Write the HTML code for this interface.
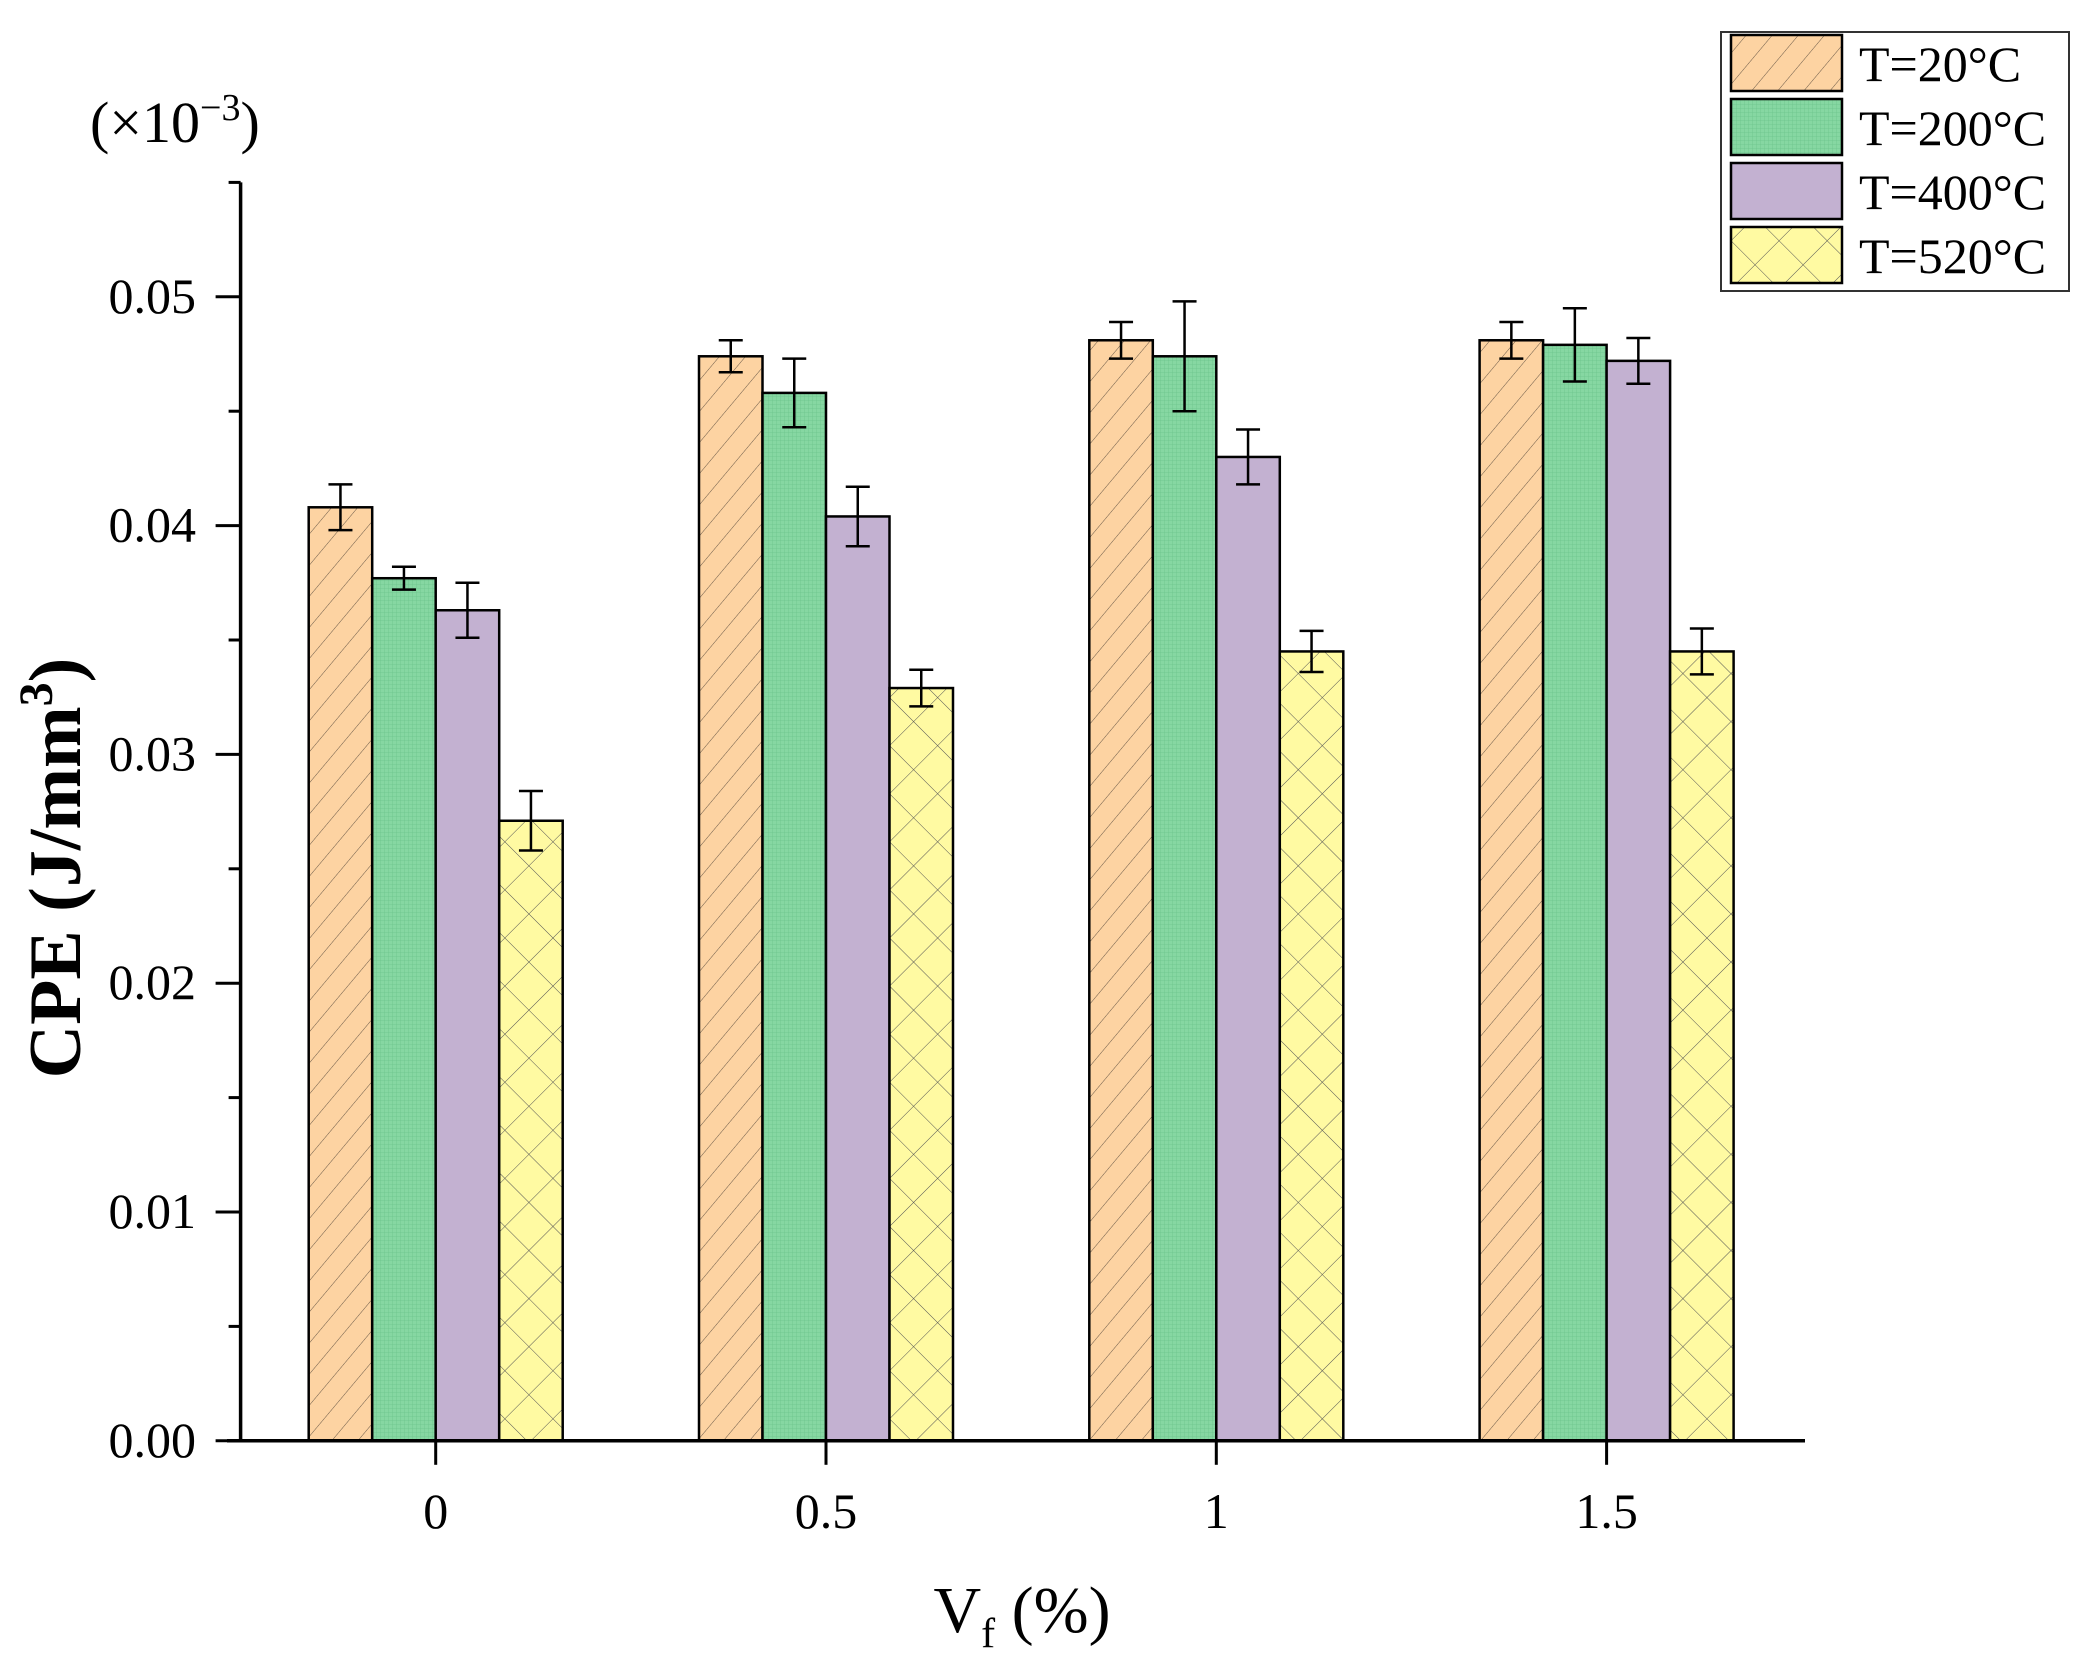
<!DOCTYPE html>
<html><head><meta charset="utf-8"><style>
html,body{margin:0;padding:0;background:#fff;}
svg{display:block;font-family:"Liberation Serif",serif;}
</style></head><body>
<svg id="chart" width="2085" height="1665" viewBox="0 0 2085 1665">
<defs>
<pattern id="p0" patternUnits="userSpaceOnUse" width="20" height="20" patternTransform="rotate(40)"><rect width="20" height="20" fill="#FDD3A2"/><line x1="0" y1="0" x2="0" y2="20" stroke="#6b5a48" stroke-width="1"/></pattern>
<pattern id="p1" patternUnits="userSpaceOnUse" width="4" height="4"><rect width="4" height="4" fill="#86D7A2"/><path d="M0 0H4M0 0V4" stroke="#6cc48c" stroke-width="0.8"/></pattern>
<pattern id="p2" patternUnits="userSpaceOnUse" width="10" height="10"><rect width="10" height="10" fill="#C3B1D1"/></pattern>
<pattern id="p3" patternUnits="userSpaceOnUse" width="34" height="34" patternTransform="rotate(45)"><rect width="34" height="34" fill="#FFFAA2"/><path d="M0 0V34M0 0H34" stroke="#555" stroke-width="1"/></pattern>
</defs>
<g id="bars"></g>
<g id="axes"></g>
<text x="90" y="142" font-size="58">(×10<tspan dy="-22" font-size="38">−3</tspan><tspan dy="22">)</tspan></text>
<text transform="translate(80,868) rotate(-90)" text-anchor="middle" font-size="74" font-weight="bold">CPE (J/mm<tspan dy="-28" font-size="48">3</tspan><tspan dy="28">)</tspan></text>
<text x="1022" y="1632" text-anchor="middle" font-size="66">V<tspan dy="15" font-size="42">f</tspan><tspan dy="-15"> (%)</tspan></text>
<g>
<rect x="1721" y="32" width="348" height="259" fill="#fff" stroke="#333" stroke-width="2"/>
<g id="legend-items"></g>
</g>
</svg>
<script>
const categories = ["0","0.5","1","1.5"];
const seriesNames = ["T=20°C","T=200°C","T=400°C","T=520°C"];
const s20 = [0.0408,0.0474,0.0481,0.0481];
const s200 = [0.0377,0.0458,0.0474,0.0479];
const s400 = [0.0363,0.0404,0.0430,0.0472];
const s520 = [0.0271,0.0329,0.0345,0.0345];
const e20 = [0.0010,0.0007,0.0008,0.0008];
const e200 = [0.0005,0.0015,0.0024,0.0016];
const e400 = [0.0012,0.0013,0.0012,0.0010];
const e520 = [0.0013,0.0008,0.0009,0.0010];
const yTicks = ["0.00","0.01","0.02","0.03","0.04","0.05"];

const NS="http://www.w3.org/2000/svg";
const series=[s20,s200,s400,s520], errs=[e20,e200,e400,e520];
const fills=["url(#p0)","url(#p1)","url(#p2)","url(#p3)"];
const y0=1440.8, pxPer=22880;
const Y=v=>y0-v*pxPer;
const X=i=>435.7+i*390.3;
const bw=63.5;
function mk(tag,attrs,parent){const e=document.createElementNS(NS,tag);for(const k in attrs)e.setAttribute(k,attrs[k]);parent.appendChild(e);return e;}
const bars=document.getElementById('bars'), axes=document.getElementById('axes');
categories.forEach((c,i)=>{
  series.forEach((s,j)=>{
    const x=X(i)-2*bw+j*bw, v=s[i];
    const r=mk('rect',{x:x,y:Y(v),width:bw,height:y0-Y(v),fill:fills[j],stroke:'#000','stroke-width':2.5},bars);
    
    
    const cx=x+bw/2, e=errs[j][i];
    const g=mk('path',{d:`M${cx} ${Y(v+e)}V${Y(v-e)}M${cx-12} ${Y(v+e)}H${cx+12}M${cx-12} ${Y(v-e)}H${cx+12}`,stroke:'#000','stroke-width':2.5,fill:'none'},bars);
    
    
  });
  const t=mk('path',{d:`M${X(i)} ${y0}v24`,stroke:'#000','stroke-width':3},axes);
  
  
  const l=mk('text',{x:X(i),y:1528,'text-anchor':'middle','font-size':50},axes);
  l.textContent=c;
  
  
});
const ya=mk('path',{d:`M240.6 ${Y(0.055)}V${y0}`,stroke:'#000','stroke-width':3.5},axes);


const xa=mk('path',{d:`M227 ${y0}H1805`,stroke:'#000','stroke-width':3.5},axes);


for(let k=0;k<=11;k++){
  const v=k*0.005, major=k%2===0;
  const tk=mk('path',{d:`M240.6 ${Y(v)}h${major?-25:-12}`,stroke:'#000','stroke-width':3},axes);
  
  
}
yTicks.forEach(t=>{
  const tx=mk('text',{x:196,y:Y(parseFloat(t))+16,'text-anchor':'end','font-size':50},axes);
  tx.textContent=t;
  
  
});
const li=document.getElementById('legend-items');
seriesNames.forEach((n,j)=>{
  const yy=35+j*64;
  const r=mk('rect',{x:1731,y:yy,width:111,height:56,fill:fills[j],stroke:'#000','stroke-width':2.5},li);
  
  
  const t=mk('text',{x:1859,y:yy+46,'font-size':50},li);
  t.textContent=n;
  
  
});
</script>
</body></html>
